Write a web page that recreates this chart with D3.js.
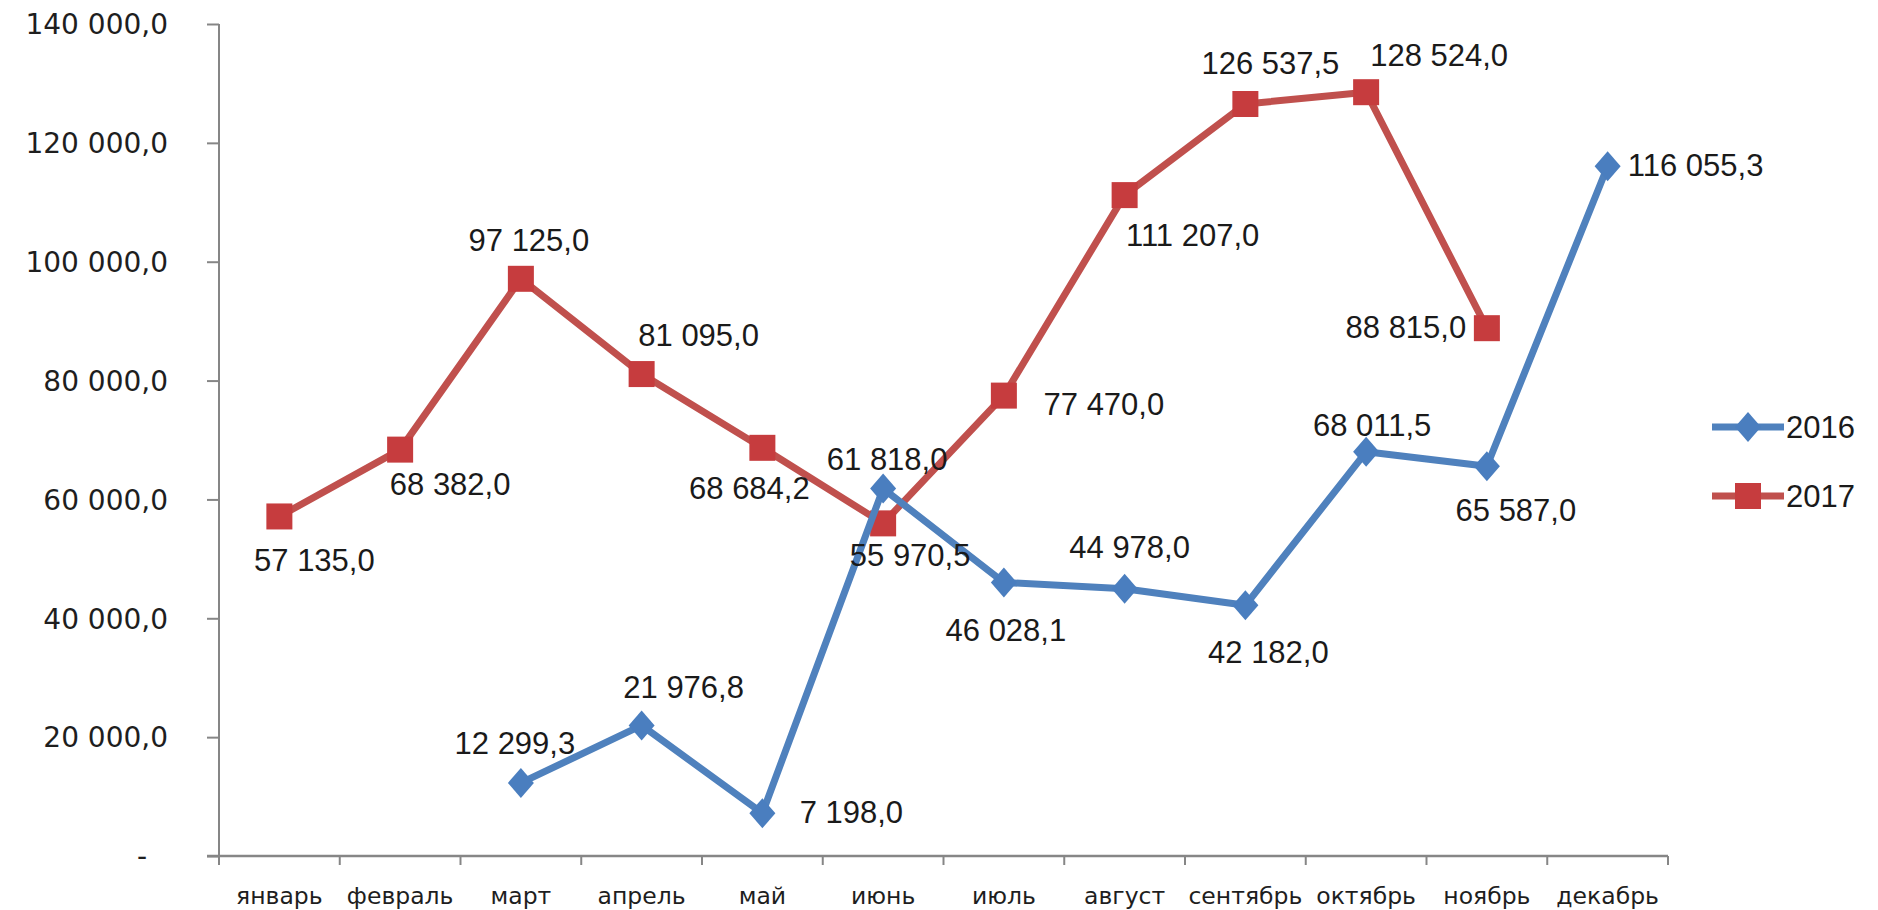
<!DOCTYPE html>
<html>
<head>
<meta charset="utf-8">
<script src="https://cdn.jsdelivr.net/npm/d3@7"></script>
<style>
  html, body { margin: 0; padding: 0; background: #ffffff; }
  svg { display: block; }
</style>
</head>
<body>
<svg id="chart" width="1878" height="910"></svg>
<script>
// ---- data ----
const months = ["январь", "февраль", "март", "апрель", "май", "июнь", "июль", "август", "сентябрь", "октябрь", "ноябрь", "декабрь"];
const seriesNames = ["2016", "2017"];
const values2016 = [null, null, 12299.3, 21976.8, 7198.0, 61818.0, 46028.1, 44978.0, 42182.0, 68011.5, 65587.0, 116055.3];
const values2017 = [57135.0, 68382.0, 97125.0, 81095.0, 68684.2, 55970.5, 77470.0, 111207.0, 126537.5, 128524.0, 88815.0, null];
const yTicks = [0, 20000, 40000, 60000, 80000, 100000, 120000, 140000];

// ---- label placement (offsets from the point, px) ----
const labelOffsets2016 = [null, null, [-6, -40], [42, -38], [89, -1], [4, -29], [2, 48], [5, -42], [23, 47], [6, -27], [29, 44], [88, -1]];
const labelOffsets2017 = [[35, 44], [50, 35], [8, -39], [57, -39], [-13, 40], [27, 32], [100, 9], [68, 40], [25, -41], [73, -37], [-81, -1], null];

// ---- styles ----
const blueLine = "#4f81bd", blueMark = "#4a7ebf";
const redLine = "#c0504d", redMark = "#c63c3e";
const axisColor = "#868686";

const svg = d3.select("#chart");
const plotLeft = 219, plotRight = 1668, plotTop = 24, plotBottom = 856;

const x = d3.scaleBand().domain(months).range([plotLeft, plotRight]).padding(0);
const y = d3.scaleLinear().domain([0, 140000]).range([plotBottom, plotTop]);
const cx = m => x(m) + x.bandwidth() / 2;

const loc = d3.formatLocale({decimal: ",", thousands: " ", grouping: [3], currency: ["", ""]});
const fmt = loc.format(",.1f");

// ---- y axis ----
const yAxis = d3.axisLeft(y).tickValues(yTicks).tickSize(12).tickSizeOuter(0)
  .tickFormat(d => d === 0 ? "-" : fmt(d));
const gy = svg.append("g").attr("transform", `translate(${plotLeft},0)`).call(yAxis);
gy.select(".domain").attr("stroke", axisColor).attr("stroke-width", 2)
  .attr("d", `M0,${plotTop}V${plotBottom + 6}`);
gy.selectAll(".tick line").attr("stroke", axisColor).attr("stroke-width", 2);
gy.selectAll(".tick text")
  .attr("font-family", "DejaVu Sans, Verdana, sans-serif")
  .attr("font-size", 28).attr("fill", "#1e1e1e").attr("x", d => d === 0 ? -72 : -51)
  .attr("dy", "0.35em");

// ---- x axis ----
const gx = svg.append("g");
gx.append("line").attr("x1", plotLeft - 12).attr("x2", plotRight).attr("y1", plotBottom).attr("y2", plotBottom)
  .attr("stroke", axisColor).attr("stroke-width", 2.5);
const bounds = months.map(m => x(m)).concat([x(months[months.length - 1]) + x.bandwidth()]);
gx.selectAll("line.xt").data(bounds).join("line").attr("class", "xt")
  .attr("x1", d => d).attr("x2", d => d).attr("y1", plotBottom).attr("y2", plotBottom + 9)
  .attr("stroke", axisColor).attr("stroke-width", 2);
gx.selectAll("text").data(months).join("text")
  .attr("x", d => cx(d)).attr("y", 896).attr("dy", "0.35em")
  .attr("text-anchor", "middle")
  .attr("font-family", "DejaVu Sans, Verdana, sans-serif").attr("font-size", 23.5)
  .attr("fill", "#1e1e1e").text(d => d);

// ---- series ----
function drawSeries(values, offsets, lineColor, markColor, shape) {
  const pts = values.map((v, i) => ({m: months[i], v, off: offsets[i]})).filter(d => d.v !== null);
  const line = d3.line().x(d => cx(d.m)).y(d => y(d.v));
  const g = svg.append("g");
  g.append("path").attr("d", line(pts)).attr("fill", "none")
    .attr("stroke", lineColor).attr("stroke-width", 7).attr("stroke-linejoin", "round").attr("stroke-linecap", "round");
  if (shape === "square") {
    g.selectAll("rect").data(pts).join("rect")
      .attr("x", d => cx(d.m) - 13).attr("y", d => y(d.v) - 13)
      .attr("width", 26).attr("height", 26).attr("fill", markColor);
  } else {
    g.selectAll("path.mk").data(pts).join("path").attr("class", "mk")
      .attr("d", d => { const px = cx(d.m), py = y(d.v);
        return `M${px},${py - 15}L${px + 13},${py}L${px},${py + 15}L${px - 13},${py}Z`; })
      .attr("fill", markColor);
  }
  return pts;
}
function drawLabels(pts) {
  svg.append("g").selectAll("text").data(pts).join("text")
    .attr("x", d => cx(d.m) + d.off[0]).attr("y", d => y(d.v) + d.off[1]).attr("dy", "0.35em")
    .attr("text-anchor", "middle")
    .attr("font-family", "Liberation Sans, Arial, sans-serif").attr("font-size", 31)
    .attr("fill", "#1a1a1a").text(d => fmt(d.v));
}
const p2017 = drawSeries(values2017, labelOffsets2017, redLine, redMark, "square");
const p2016 = drawSeries(values2016, labelOffsets2016, blueLine, blueMark, "diamond");
drawLabels(p2017);
drawLabels(p2016);

// ---- legend ----
const legend = svg.append("g");
const legendItems = [
  {name: seriesNames[0], line: blueLine, mark: blueMark, shape: "diamond", y: 427},
  {name: seriesNames[1], line: redLine, mark: redMark, shape: "square", y: 496}
];
legendItems.forEach(it => {
  legend.append("line").attr("x1", 1712).attr("x2", 1784).attr("y1", it.y).attr("y2", it.y)
    .attr("stroke", it.line).attr("stroke-width", 7);
  if (it.shape === "square") {
    legend.append("rect").attr("x", 1748 - 13).attr("y", it.y - 13).attr("width", 26).attr("height", 26).attr("fill", it.mark);
  } else {
    legend.append("path").attr("d", `M1748,${it.y - 15}L1761,${it.y}L1748,${it.y + 15}L1735,${it.y}Z`).attr("fill", it.mark);
  }
  legend.append("text").attr("x", 1786).attr("y", it.y).attr("dy", "0.35em")
    .attr("font-family", "Liberation Sans, Arial, sans-serif").attr("font-size", 31)
    .attr("fill", "#1a1a1a").text(it.name);
});
</script>
</body>
</html>
